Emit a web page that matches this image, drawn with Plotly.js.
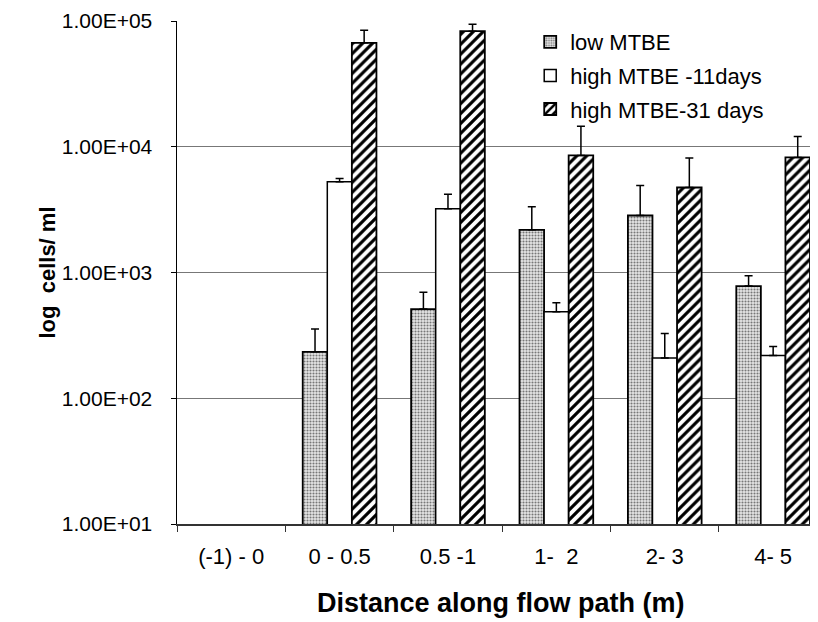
<!DOCTYPE html>
<html>
<head>
<meta charset="utf-8">
<script src="https://cdn.plot.ly/plotly-3.0.1.min.js"></script>
<style>html,body{margin:0;padding:0;background:#fff;}</style>
</head>
<body>
<div id="chart" style="width:818px;height:622px;"></div>
<script>
// Category labels (distance along flow path, m)
var categories = ["(-1) - 0", "0 - 0.5", "0.5 -1", "1-\u00a0\u00a02", "2- 3", "4- 5"];

// Series values (cells/ml)
var lowMTBE      = [null, 234, 512, 2183, 2840, 780];
var lowMTBEErr   = [null, 121, 183, 1157, 2080, 164];

var high11       = [null, 5280, 3220, 488, 209, 219];
var high11Err    = [null, 310, 980, 86, 118, 39];

var high31       = [null, 67000, 83000, 8530, 4740, 8220];
var high31Err    = [null, 17500, 11400, 6000, 3390, 3860];

var seriesNames = ["low MTBE", "high MTBE -11days", "high MTBE-31 days"];

// Y tick labels
var yTickVals = [10, 100, 1000, 10000, 100000];
var yTickText = ["1.00E+01", "1.00E+02", "1.00E+03", "1.00E+04", "1.00E+05"];

function zeros(a){ return a.map(function(){ return 0; }); }

var FONT = "Liberation Sans, Arial, Helvetica, sans-serif";

function errBar(arr){
  return {type:"data", symmetric:false, array:arr, arrayminus:zeros(arr),
          color:"#000", thickness:1.5, width:4, visible:true};
}

var traces = [
  {
    type:"bar", name:seriesNames[0], x:categories, y:lowMTBE,
    legendgroup:"a",
    marker:{color:"#d0d0d0", line:{color:"#000", width:1.8},
            pattern:{shape:".", fgcolor:"#777", bgcolor:"#e6e6e6", size:3, solidity:0.4}},
    error_y:errBar(lowMTBEErr)
  },
  {
    type:"bar", name:seriesNames[1], x:categories, y:high11,
    legendgroup:"b",
    marker:{color:"#fff", line:{color:"#000", width:1.5}},
    error_y:errBar(high11Err)
  },
  {
    type:"bar", name:seriesNames[2], x:categories, y:high31,
    legendgroup:"c",
    marker:{color:"#fff", line:{color:"#000", width:1.8},
            pattern:{shape:"/", fgcolor:"#000", bgcolor:"#fff", size:7, solidity:0.45}},
    error_y:errBar(high31Err)
  }
];

var layout = {
  width:818, height:622,
  margin:{l:177, r:8, t:21, b:98, pad:0},
  paper_bgcolor:"#fff", plot_bgcolor:"#fff",
  font:{family:FONT, color:"#000"},
  barmode:"group", bargap:0.32, bargroupgap:0,
  showlegend:true,
  legend:{x:0.558, xanchor:"left", y:1.0, yanchor:"top",
          bgcolor:"rgba(0,0,0,0)", borderwidth:0,
          font:{family:FONT, size:22, color:"#000"},
          traceorder:"grouped", tracegroupgap:2},
  xaxis:{
    type:"category", range:[-0.5, 5.34],
    showline:true, linecolor:"#333", linewidth:1.5,
    ticks:"outside", tickson:"boundaries", ticklen:6, tickcolor:"#333", tickwidth:1,
    tickfont:{family:FONT, size:22, color:"#000"},
    ticklabelstandoff:12,
    showgrid:false, zeroline:false, fixedrange:true
  },
  yaxis:{
    type:"log", range:[1, 5],
    tickvals:yTickVals, ticktext:yTickText,
    showline:true, linecolor:"#000", linewidth:1.5,
    ticks:"outside", ticklen:5, tickcolor:"#000",
    tickfont:{family:FONT, size:21, color:"#000"},
    ticklabelstandoff:14,
    showgrid:true, gridcolor:"#777", gridwidth:1,
    zeroline:false, fixedrange:true,
    title:{text:"<b>log  cells/ ml</b>", font:{family:FONT, size:22, color:"#000"}, standoff:0}
  },
  annotations:[
    {text:"<b>Distance along flow path (m)</b>", xref:"paper", yref:"paper",
     x:0.512, y:-0.158, xanchor:"center", yanchor:"middle", showarrow:false,
     font:{family:FONT, size:27, color:"#000"}}
  ]
};

Plotly.newPlot("chart", traces, layout, {displayModeBar:false, staticPlot:true});
</script>
</body>
</html>
